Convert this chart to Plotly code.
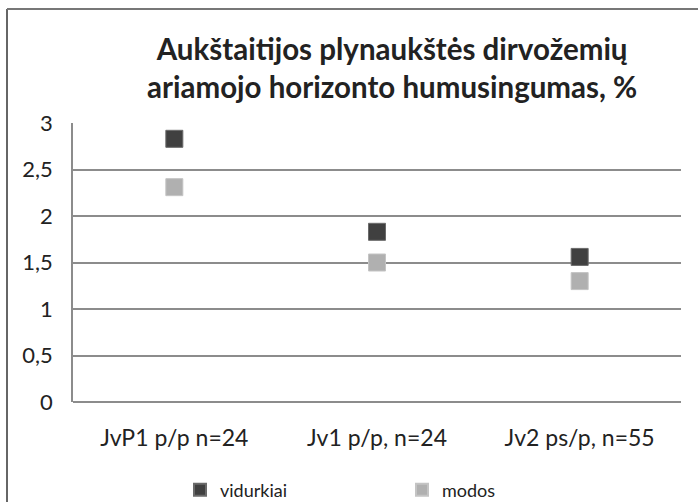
import plotly.graph_objects as go

categories = ["JvP1 p/p n=24", "Jv1 p/p, n=24", "Jv2 ps/p, n=55"]
vidurkiai = [2.83, 1.83, 1.56]
modos = [2.31, 1.50, 1.30]
y_ticks = [0, 0.5, 1, 1.5, 2, 2.5, 3]
y_tick_labels = ["0", "0,5", "1", "1,5", "2", "2,5", "3"]

FONT = "Lato, 'Open Sans', sans-serif"

fig = go.Figure()
fig.add_trace(go.Scatter(
    x=categories, y=vidurkiai, mode="markers", name="vidurkiai",
    marker=dict(symbol="square", size=17, color="#404040",
                line=dict(color="#6a6a6a", width=1)),
))
fig.add_trace(go.Scatter(
    x=categories, y=modos, mode="markers", name="modos",
    marker=dict(symbol="square", size=17, color="#b0b0b0",
                line=dict(color="#c4c4c4", width=1)),
))

L, R, T, B = 73, 17, 123, 100
W, H = 698, 502
pw, ph = W - L - R, H - T - B

def px2x(px):
    return (px - L) / pw

def py2y(py):
    return (H - B - py) / ph

fig.update_layout(
    width=W, height=H,
    margin=dict(l=L, r=R, t=T, b=B, autoexpand=False),
    paper_bgcolor="white", plot_bgcolor="white",
    font=dict(family=FONT, color="#222222"),
    showlegend=True,
    legend=dict(orientation="h", x=px2x(180), y=py2y(490), xanchor="left", yanchor="middle",
                entrywidth=177, entrywidthmode="pixels",
                font=dict(size=18, color="#222222"), itemsizing="constant",
                bgcolor="rgba(0,0,0,0)"),
    xaxis=dict(type="category", range=[-0.5, 2.5], showgrid=False, showline=False,
               ticks="", tickfont=dict(size=23, color="#222222"), ticklabelstandoff=20),
    yaxis=dict(range=[0, 3], tickvals=y_ticks, ticktext=y_tick_labels,
               showgrid=True, gridcolor="#8c8c8c", gridwidth=1.5,
               showline=True, linecolor="#8c8c8c", linewidth=1.5,
               zeroline=True, zerolinecolor="#8c8c8c", zerolinewidth=1.5,
               ticks="", tickfont=dict(size=22, color="#222222"), ticklabelstandoff=14),
    annotations=[dict(
        text="<b>Aukštaitijos plynaukštės dirvožemių<br>ariamojo horizonto humusingumas, %</b>",
        xref="paper", yref="paper", x=px2x(392), y=py2y(67), xanchor="center", yanchor="middle",
        showarrow=False, font=dict(size=29.5, color="#222222", family=FONT), align="center",
    )],
    shapes=[
        dict(type="line", xref="paper", yref="paper", x0=px2x(7), x1=px2x(7), y0=py2y(502), y1=py2y(9),
             line=dict(color="#333333", width=1.5)),
        dict(type="line", xref="paper", yref="paper", x0=px2x(7), x1=px2x(698), y0=py2y(9), y1=py2y(9),
             line=dict(color="#777777", width=2)),
    ],
)

fig.write_html("out.html", config={"displayModeBar": False},
               post_script="document.body.style.margin='0';")
